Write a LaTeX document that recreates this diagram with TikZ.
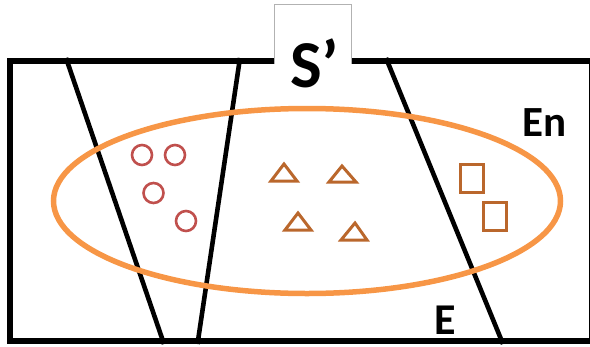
\documentclass[tikz,border=0pt]{standalone}
\usepackage{fontspec}
\setmainfont{Carlito}
\definecolor{ringorange}{HTML}{F79646}
\definecolor{dotred}{HTML}{C0504D}
\definecolor{shapebrown}{HTML}{BA672C}
\begin{document}
\begin{tikzpicture}[x=1pt,y=-1pt,
  frame/.style={line width=6pt,black},
  divider/.style={line width=4.6pt,black},
  ring/.style={line width=5.5pt,ringorange},
  dot/.style={line width=2.6pt,dotred},
  tri/.style={line width=3pt,shapebrown,line join=miter},
  card/.style={line width=3pt,shapebrown},
  lbl/.style={inner sep=0pt,anchor=base}]
\useasboundingbox (0,0) rectangle (590,346);
\clip (0,0) rectangle (590,346);
% outer frame
\draw[frame] (10,61) rectangle (592,341);
% three dividing lines
\coordinate (d1t) at (66,58); \coordinate (d1b) at (164,344);
\coordinate (d2t) at (240,58); \coordinate (d2b) at (197.5,344);
\coordinate (d3t) at (386,58); \coordinate (d3b) at (503,344);
\draw[divider] (d1t) -- (d1b);
\draw[divider] (d2t) -- (d2b);
\draw[divider] (d3t) -- (d3b);
% tab on top of the frame
\fill[white] (274,4) rectangle (351,66);
\draw[gray!60,line width=0.8pt] (274,64) -- (274,4) -- (351,4) -- (351,64);
\node[lbl,font=\bfseries\fontsize{67}{67}\selectfont] (sp) at (315,87) {S’};
% ellipse
\draw[ring] (307,201) ellipse [x radius=253.5, y radius=92.5];
% circles
\foreach \n/\cx/\cy in {c1/142/155, c2/175/155, c3/153.5/193, c4/186/221}
  \draw[dot] (\cx,\cy) circle (10);
% triangles
\foreach \ax/\ay/\bl/\br/\by in {284/164/271/297/181, 342/166/329/356/182, 298/213/285/311/230, 355/223/341/367/240}
  \draw[tri] (\ax,\ay) -- (\br,\by) -- (\bl,\by) -- cycle;
% rectangles
\draw[card] (460.5,164.5) rectangle (483,192);
\draw[card] (483.5,202.5) rectangle (506,230);
% labels
\node[lbl,font=\bfseries\fontsize{43}{43}\selectfont] (en) at (545,136) {En};
\node[lbl,font=\bfseries\fontsize{44}{44}\selectfont] (e) at (445,334) {E};
\end{tikzpicture}
\end{document}
